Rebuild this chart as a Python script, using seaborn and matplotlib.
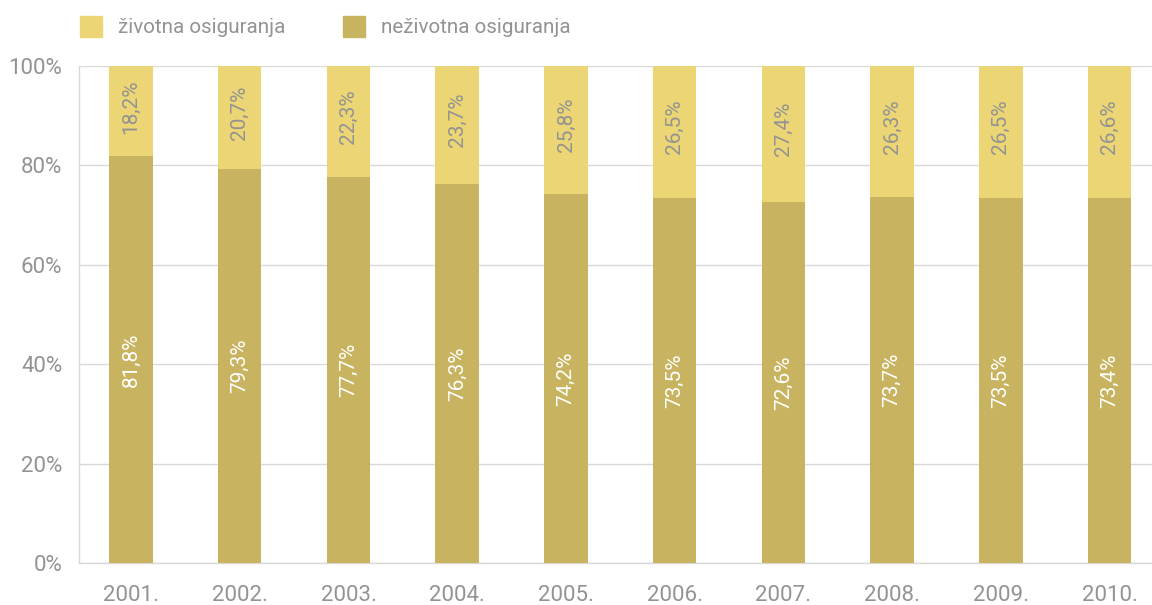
import matplotlib
matplotlib.use("Agg")
import matplotlib.pyplot as plt
import matplotlib.patches as mpatches
import seaborn as sns
import pandas as pd

# Data
years = ["2001.", "2002.", "2003.", "2004.", "2005.", "2006.", "2007.", "2008.", "2009.", "2010."]
life = [18.2, 20.7, 22.3, 23.7, 25.8, 26.5, 27.4, 26.3, 26.5, 26.6]
nonlife = [81.8, 79.3, 77.7, 76.3, 74.2, 73.5, 72.6, 73.7, 73.5, 73.4]
life_labels = ["18,2%", "20,7%", "22,3%", "23,7%", "25,8%", "26,5%", "27,4%", "26,3%", "26,5%", "26,6%"]
nonlife_labels = ["81,8%", "79,3%", "77,7%", "76,3%", "74,2%", "73,5%", "72,6%", "73,7%", "73,5%", "73,4%"]

LIFE_COLOR = "#EBD575"
NONLIFE_COLOR = "#C8B460"
TEXT_COLOR = "#939393"
GRID_COLOR = "#d9d9d9"

sns.set_style("white")
plt.rcParams["font.family"] = ["Roboto", "DejaVu Sans"]

df = pd.DataFrame({"year": years, "life": life, "nonlife": nonlife})
df["total"] = df["life"] + df["nonlife"]

fig = plt.figure(figsize=(11.52, 6.05), dpi=100)
ax = fig.add_axes([0.0686, 0.0694, 0.9314, 0.8215])

sns.barplot(data=df, x="year", y="total", color=LIFE_COLOR, width=0.4,
            saturation=1, ax=ax, zorder=2, linewidth=0)
sns.barplot(data=df, x="year", y="nonlife", color=NONLIFE_COLOR, width=0.4,
            saturation=1, ax=ax, zorder=3, linewidth=0)

# labels inside segments
for i in range(len(years)):
    ax.text(i, nonlife[i] / 2, nonlife_labels[i], rotation=90, ha="center", va="center",
            color="white", fontsize=15, zorder=4)
    ax.text(i, nonlife[i] + life[i] / 2 + 1, life_labels[i], rotation=90, ha="center", va="center",
            color=TEXT_COLOR, fontsize=15, zorder=4)

ax.set_ylim(0, 100)
ax.set_xlim(-0.478, 9.39)
ax.set_yticks([0, 20, 40, 60, 80, 100])
ax.set_yticklabels([f"{v}%" for v in range(0, 101, 20)])
ax.yaxis.grid(True, color=GRID_COLOR, linewidth=1, zorder=0)
ax.set_axisbelow(True)
ax.set_xlabel("")
ax.set_ylabel("")
ax.tick_params(axis="both", length=0, colors=TEXT_COLOR, labelsize=16)
ax.tick_params(axis="x", pad=16)
ax.tick_params(axis="y", pad=12)

for side in ["top", "right"]:
    ax.spines[side].set_visible(False)
for side in ["left", "bottom"]:
    ax.spines[side].set_color(GRID_COLOR)
    ax.spines[side].set_linewidth(1)

# legend
handles = [mpatches.Patch(color=LIFE_COLOR, label="životna osiguranja"),
           mpatches.Patch(color=NONLIFE_COLOR, label="neživotna osiguranja")]
leg = fig.legend(handles=handles, loc="upper left", bbox_to_anchor=(0.053, 1.005),
                 ncol=2, frameon=False, fontsize=14.9, handlelength=1.06, handleheight=1.2,
                 handletextpad=0.77, columnspacing=2.8)
for t in leg.get_texts():
    t.set_color(TEXT_COLOR)

plt.savefig("out.png", dpi=100)
